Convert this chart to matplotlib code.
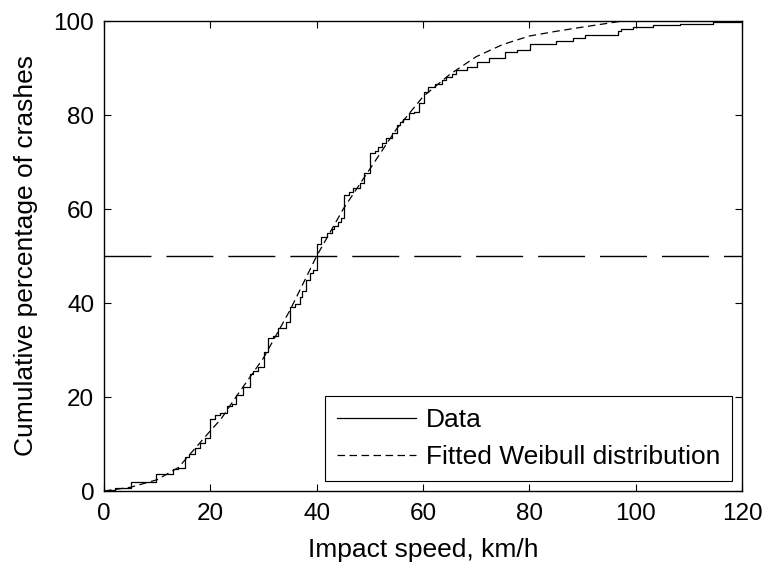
import matplotlib
matplotlib.use("Agg")
import matplotlib.pyplot as plt
from matplotlib.lines import Line2D

plt.rcParams['font.family'] = ['Liberation Sans', 'DejaVu Sans']
plt.rcParams['font.size'] = 17.5

# Empirical cumulative distribution (step positions, km/h, and level after the step, %)
data_speed = [0, 1.0, 2.1, 5.0, 9.8, 12.9, 14.0, 15.2, 16.0, 17.1, 18.0, 19.0, 20.0,
              20.9, 21.8, 23.1, 24.0, 24.8, 26.2, 27.4, 28.1, 29.0, 30.1, 30.9, 31.8,
              32.8, 34.2, 35.0, 35.9, 36.8, 37.2, 38.0, 38.8, 39.3, 40.0, 40.9, 41.9,
              42.8, 43.3, 44.0, 44.6, 45.2, 46.1, 46.9, 48.1, 48.9, 50.0, 51.0, 51.6,
              52.2, 53.0, 54.1, 55.1, 55.7, 56.3, 57.4, 58.4, 59.3, 60.2, 61.0, 62.2,
              63.5, 64.3, 65.4, 66.3, 68.2, 70.2, 72.4, 75.4, 77.6, 80.1, 85.1, 88.2,
              90.4, 96.7, 97.3, 99.5, 103.3, 108.3, 114.6, 120.0]
data_pct = [0, 0.3, 0.6, 1.9, 3.7, 4.6, 5.0, 7.3, 7.8, 9.1, 10.3, 11.3, 15.3,
            16.1, 16.7, 18.0, 18.6, 20.4, 22.2, 25.0, 25.5, 26.4, 29.6, 32.5, 33.0,
            34.6, 36.0, 39.1, 39.8, 41.3, 42.5, 45.0, 46.3, 47.0, 52.5, 54.1, 54.8,
            55.7, 56.4, 57.3, 58.0, 63.0, 63.7, 64.4, 65.5, 67.6, 71.9, 72.3, 73.1,
            74.0, 75.2, 76.1, 77.9, 78.6, 79.1, 80.4, 80.7, 82.5, 85.0, 86.0, 86.7,
            87.4, 88.1, 88.8, 89.6, 90.3, 91.3, 92.2, 93.3, 93.8, 95.2, 95.7, 96.4,
            97.0, 97.8, 98.4, 98.8, 99.1, 99.4, 99.7, 99.8]

# Fitted Weibull curve
weib_speed = [0, 5, 10, 14, 20, 22, 25, 30, 35, 40, 45, 50, 55, 60, 65, 70, 75, 80, 85, 90, 97]
weib_pct = [0, 0.8, 2.4, 5.0, 12.8, 15.3, 20.3, 28.3, 38.5, 50.0, 60.0, 68.5, 77.0,
            83.9, 88.6, 92.4, 95.0, 96.8, 97.8, 98.7, 99.9]

median_level = 50

x_ticks = [0, 20, 40, 60, 80, 100, 120]
y_ticks = [0, 20, 40, 60, 80, 100]

fig = plt.figure(figsize=(7.68, 5.63), dpi=100)
ax = fig.add_axes([104/768, 1 - 491/563, 638/768, 470/563])

ax.plot(data_speed, data_pct, color='black', lw=0.9, drawstyle='steps-post')
ax.plot(weib_speed, weib_pct, color='black', lw=0.9, linestyle=(0, (6, 3.6)))
ax.axhline(median_level, color='black', lw=1.0, linestyle=(0, (33.8, 10.8)))

ax.set_xlim(0, 120)
ax.set_ylim(0, 100)
ax.set_xticks(x_ticks)
ax.set_yticks(y_ticks)
ax.tick_params(direction='in', top=True, right=True, length=5, width=0.8)
ax.tick_params(axis='x', pad=9)
ax.tick_params(axis='y', pad=7)
for s in ax.spines.values():
    s.set_linewidth(1.0)

ax.set_xlabel('Impact speed, km/h', labelpad=9, fontsize=19)
ax.set_ylabel('Cumulative percentage of crashes', labelpad=11, fontsize=19)

handles = [Line2D([], [], color='black', lw=0.9),
           Line2D([], [], color='black', lw=0.9, linestyle=(0, (6, 3.6)))]
leg = ax.legend(handles, ['Data', 'Fitted Weibull distribution'],
                loc='lower right', bbox_to_anchor=(0.985, 0.021),
                frameon=True, fancybox=False, edgecolor='black', framealpha=1,
                fontsize=19, handlelength=3.0, handletextpad=0.37, borderpad=0.45,
                labelspacing=0.5, borderaxespad=0)
leg.get_frame().set_linewidth(0.8)

fig.savefig('out.png', dpi=100)
